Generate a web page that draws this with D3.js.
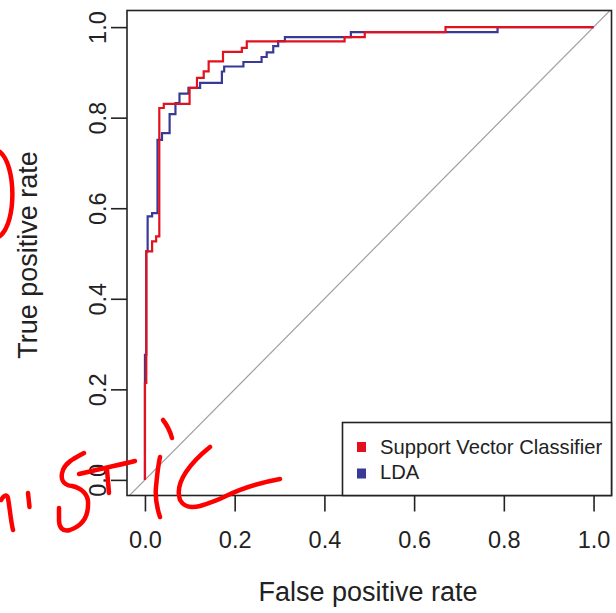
<!DOCTYPE html>
<html><head><meta charset="utf-8">
<script src="https://cdn.jsdelivr.net/npm/d3@7"></script>
<style>
body{margin:0;background:#fff;}
svg{display:block;}
text{font-family:"Liberation Sans",Arial,Helvetica,sans-serif;fill:#222;}
</style></head>
<body>
<svg id="chart" width="616" height="613"></svg>
<script>
// ---- data ----
const seriesNames = ["Support Vector Classifier", "LDA"];
const seriesColors = ["#e3111e", "#393996"];
// step columns (false positive rate) and level reached (true positive rate)
const svcFpr = [0.0, 0.003, 0.016, 0.025, 0.032, 0.042, 0.0995, 0.116, 0.131, 0.142, 0.174, 0.216, 0.227, 0.445, 0.490, 0.670, 1.0];
const svcTpr = [0.214, 0.5045, 0.5266, 0.5377, 0.8214, 0.8303, 0.8656, 0.8877, 0.9023, 0.9244, 0.9452, 0.9540, 0.9686, 0.978, 0.989, 1.0, 1.0];
const ldaFpr = [0.0, 0.003, 0.006, 0.016, 0.028, 0.038, 0.055, 0.068, 0.077, 0.097, 0.123, 0.1715, 0.1766, 0.2195, 0.260, 0.2714, 0.286, 0.297, 0.312, 0.459, 0.786, 1.0];
const ldaTpr = [0.276, 0.5045, 0.582, 0.589, 0.751, 0.766, 0.808, 0.832, 0.853, 0.866, 0.877, 0.902, 0.913, 0.923, 0.934, 0.944, 0.958, 0.969, 0.978, 0.989, 1.0, 1.0];
const xTicks = [0, 0.2, 0.4, 0.6, 0.8, 1.0];
const yTicks = [0, 0.2, 0.4, 0.6, 0.8, 1.0];
const xTitle = "False positive rate";
const yTitle = "True positive rate";

// ---- layout ----
const svg = d3.select("#chart");
const box = {left: 127, right: 611.5, top: 10.5, bottom: 495.5};
const x = d3.scaleLinear().domain([-0.04, 1.04]).range([box.left, box.right]);
const y = d3.scaleLinear().domain([-0.04, 1.04]).range([box.bottom + 2.5, box.top - 1.5]);

// clip
svg.append("clipPath").attr("id", "clip").append("rect")
  .attr("x", box.left).attr("y", box.top).attr("width", box.right - box.left).attr("height", box.bottom - box.top);

// diagonal
svg.append("line").attr("clip-path", "url(#clip)")
  .attr("x1", x(-0.1)).attr("y1", y(-0.1)).attr("x2", x(1.1)).attr("y2", y(1.1))
  .attr("stroke", "#a0a0a0").attr("stroke-width", 1.2);

function stepPts(fs, ts) {
  const pts = [[fs[0], 0]];
  fs.forEach((f, i) => pts.push([f, ts[i]]));
  return pts;
}
const line = d3.line().x(d => x(d[0])).y(d => y(d[1])).curve(d3.curveStepAfter);
const g = svg.append("g").attr("clip-path", "url(#clip)");
g.append("path").datum(stepPts(ldaFpr, ldaTpr)).attr("d", line)
  .attr("fill", "none").attr("stroke", seriesColors[1]).attr("stroke-width", 2.2);
g.append("path").datum(stepPts(svcFpr, svcTpr)).attr("d", line)
  .attr("fill", "none").attr("stroke", seriesColors[0]).attr("stroke-width", 2.2);

// axes
const xAxis = svg.append("g").attr("transform", `translate(0,${box.bottom})`)
  .call(d3.axisBottom(x).tickValues(xTicks).tickFormat(d3.format(".1f")).tickSize(16).tickPadding(20));
xAxis.select(".domain").remove();
xAxis.selectAll("line").attr("stroke", "#222").attr("stroke-width", 1.6);
xAxis.selectAll("text").attr("font-size", 23.5).attr("fill", "#222").style("font-family", "Liberation Sans, Arial, sans-serif");

const yAxis = svg.append("g").attr("transform", `translate(${box.left},0)`)
  .call(d3.axisLeft(y).tickValues(yTicks).tickFormat(d3.format(".1f")).tickSize(16));
yAxis.select(".domain").remove();
yAxis.selectAll("line").attr("stroke", "#222").attr("stroke-width", 1.6);
yAxis.selectAll("text")
  .attr("x", null).attr("dy", null)
  .attr("transform", "translate(-21,0) rotate(-90)")
  .attr("text-anchor", "middle").attr("font-size", 23.5).attr("fill", "#222")
  .style("font-family", "Liberation Sans, Arial, sans-serif");

// box
svg.append("rect").attr("x", box.left).attr("y", box.top)
  .attr("width", box.right - box.left).attr("height", box.bottom - box.top)
  .attr("fill", "none").attr("stroke", "#222").attr("stroke-width", 1.6);

// titles
svg.append("text").attr("x", 368).attr("y", 601).attr("text-anchor", "middle")
  .attr("font-size", 27).text(xTitle);
svg.append("text").attr("transform", "translate(37,255) rotate(-90)").attr("text-anchor", "middle")
  .attr("font-size", 27).text(yTitle);

// legend
const lg = svg.append("g");
lg.append("rect").attr("x", 342.5).attr("y", 422.5).attr("width", box.right - 342.5).attr("height", box.bottom - 422.5)
  .attr("fill", "#fff").attr("stroke", "#222").attr("stroke-width", 1.6);
seriesNames.forEach((n, i) => {
  lg.append("rect").attr("x", 357).attr("y", 442 + i * 26.5).attr("width", 9).attr("height", 10)
    .attr("fill", seriesColors[i]);
  lg.append("text").attr("x", 380).attr("y", 454 + i * 24.5).attr("font-size", 20.2).text(n);
});

// handwritten annotations
const ann = [
  "M0,152 C16,165 17,222 0,236",
  "M1,500 C4,495 7,494 8,498 C10,510 11,522 13,530",
  "M28,493 L29.5,507",
  "M84,453 C75,458 66,462 63,470 C60,478 62,485 72,486 C82,488 89,495 88,505 C88,515 84,525 70,530 C62,532 59,527 59,520 L59,508",
  "M79,474 C95,470 115,466 135,461",
  "M107,470 L109,493",
  "M163,420 C167,425 170,431 172,438",
  "M160,457 C158,466 157,476 156,487 C155,497 157,508 160,517",
  "M210,447 C200,455 192,463 186,472 C180,481 177,491 180,500 C184,507 192,508 200,506 C210,503 218,500 226,496 C240,489 258,483 280,479"
];
svg.append("g").selectAll("path").data(ann).join("path").attr("d", d => d)
  .attr("fill", "none").attr("stroke", "#ff0000").attr("stroke-width", 4.5)
  .attr("stroke-linecap", "round").attr("stroke-linejoin", "round");
</script>
</body></html>
